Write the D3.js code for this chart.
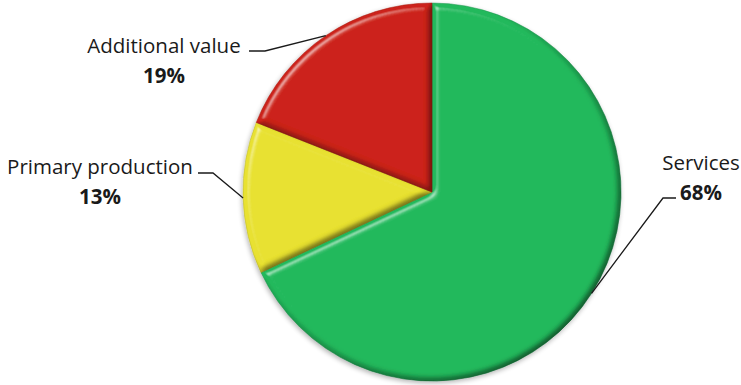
<!DOCTYPE html>
<html>
<head>
<meta charset="utf-8">
<script src="https://cdn.jsdelivr.net/npm/d3@7"></script>
<style>
  html, body { margin: 0; padding: 0; background: #fff; }
  svg { display: block; }
  .name { font-family: "Open Sans", Lato, sans-serif; font-size: 20.5px; fill: #1a1a1a; }
  .pct { font-family: "Open Sans", Lato, sans-serif; font-size: 20.5px; font-weight: bold; fill: #1a1a1a; }
</style>
</head>
<body>
<svg id="chart" width="741" height="385"></svg>
<script>
// Sector shares, in percent, drawn clockwise from 12 o'clock
const categories = ["Services", "Primary production", "Additional value"];
const shares = [68, 13, 19];
const colors = ["#22b95c", "#e8e130", "#cc231a"];

// Label anchor (text centre) and elbow of each leader line, per category
const labelPos = [
  { x: 701, y: 162, elbow: [663, 198], end: [676, 198] },
  { x: 100, y: 166, elbow: [213, 173], end: [198, 173] },
  { x: 164, y: 45,  elbow: [265, 51],  end: [249, 51] }
];

const width = 741, height = 385;
const cx = 432, cy = 192, radius = 189;

const svg = d3.select("#chart");
const defs = svg.append("defs");

// Soft round bevel, light from the upper left.
// Highlight: specular light on the blurred alpha, minus its value on a flat face.
// Shade: how far the diffuse light drops below its flat-face value.
const bevel = defs.append("filter").attr("id", "bevel")
  .attr("color-interpolation-filters", "sRGB")
  .attr("x", "-5%").attr("y", "-5%").attr("width", "110%").attr("height", "110%");
bevel.append("feGaussianBlur").attr("in", "SourceAlpha").attr("stdDeviation", 3.2).attr("result", "blur");

const elev = 50;
bevel.append("feSpecularLighting")
  .attr("in", "blur").attr("surfaceScale", 4).attr("specularConstant", 1)
  .attr("specularExponent", 20).attr("lighting-color", "#ffffff").attr("result", "spec")
  .append("feDistantLight").attr("azimuth", 225).attr("elevation", elev);
const flatSpec = Math.pow(Math.cos((90 - elev) / 2 * Math.PI / 180), 20);
const hs = 0.55 / (1 - flatSpec);
bevel.append("feColorMatrix").attr("in", "spec").attr("type", "matrix")
  .attr("values", `0 0 0 0 1  0 0 0 0 1  0 0 0 0 1  0 0 0 ${hs} ${-hs * flatSpec}`)
  .attr("result", "hl");

bevel.append("feDiffuseLighting")
  .attr("in", "blur").attr("surfaceScale", 4).attr("diffuseConstant", 1)
  .attr("lighting-color", "#ffffff").attr("result", "diff")
  .append("feDistantLight").attr("azimuth", 225).attr("elevation", elev);
const flatDiff = Math.sin(elev * Math.PI / 180);
const ds = 0.7;
bevel.append("feColorMatrix").attr("in", "diff").attr("type", "matrix")
  .attr("values", `0 0 0 0 0  0 0 0 0 0  0 0 0 0 0  ${-ds} 0 0 0 ${ds * flatDiff}`)
  .attr("result", "sh");

bevel.append("feComposite").attr("in", "sh").attr("in2", "SourceAlpha").attr("operator", "in").attr("result", "shIn");
bevel.append("feComposite").attr("in", "hl").attr("in2", "SourceAlpha").attr("operator", "in").attr("result", "hlIn");
const bm = bevel.append("feMerge");
bm.append("feMergeNode").attr("in", "SourceGraphic");
bm.append("feMergeNode").attr("in", "shIn");
bm.append("feMergeNode").attr("in", "hlIn");

// Drop shadow under the whole pie
const shadow = defs.append("filter").attr("id", "shadow")
  .attr("x", "-10%").attr("y", "-10%").attr("width", "120%").attr("height", "120%");
shadow.append("feGaussianBlur").attr("in", "SourceAlpha").attr("stdDeviation", 2.5).attr("result", "b");
shadow.append("feOffset").attr("in", "b").attr("dx", -1).attr("dy", 2).attr("result", "o");
shadow.append("feComponentTransfer").attr("in", "o").attr("result", "s")
  .append("feFuncA").attr("type", "linear").attr("slope", 0.3);
const merge = shadow.append("feMerge");
merge.append("feMergeNode").attr("in", "s");
merge.append("feMergeNode").attr("in", "SourceGraphic");

const data = categories.map((c, i) => ({ name: c, value: shares[i], color: colors[i], label: labelPos[i] }));

const pie = d3.pie().sort(null).value(d => d.value).startAngle(0).endAngle(2 * Math.PI);
const arc = d3.arc().innerRadius(0).outerRadius(radius);
const arcs = pie(data);

const g = svg.append("g").attr("transform", `translate(${cx},${cy})`);
const slices = g.append("g").attr("filter", "url(#shadow)");

slices.selectAll("path")
  .data(arcs)
  .join("path")
  .attr("d", arc)
  .attr("fill", d => d.data.color)
  .attr("stroke", d => d3.color(d.data.color).darker(0.6))
  .attr("stroke-width", 0.5)
  .attr("filter", "url(#bevel)");

// Leader lines from the slice's mid-angle on the rim to the label
const lines = svg.append("g");
arcs.forEach(a => {
  const mid = (a.startAngle + a.endAngle) / 2;
  const px = cx + radius * Math.sin(mid);
  const py = cy - radius * Math.cos(mid);
  const L = a.data.label;
  lines.append("path")
    .attr("d", d3.line()([[px, py], L.elbow, L.end]))
    .attr("fill", "none")
    .attr("stroke", "#1a1a1a")
    .attr("stroke-width", 1.3);
});

// Category name and share
const labels = svg.append("g");
arcs.forEach(a => {
  const L = a.data.label;
  labels.append("text").attr("class", "name")
    .attr("x", L.x).attr("y", L.y).attr("text-anchor", "middle").attr("dominant-baseline", "central")
    .text(a.data.name);
  labels.append("text").attr("class", "pct")
    .attr("x", L.x).attr("y", L.y + 30).attr("text-anchor", "middle").attr("dominant-baseline", "central")
    .text(a.data.value + "%");
});
</script>
</body>
</html>
